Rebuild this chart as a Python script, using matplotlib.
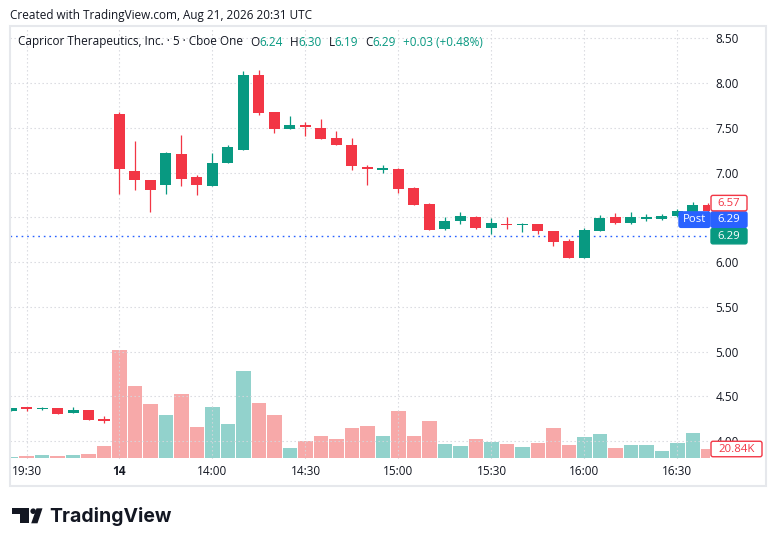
import matplotlib
matplotlib.use("Agg")
import matplotlib.pyplot as plt
from matplotlib.patches import Rectangle, Polygon, Circle, FancyBboxPatch
import numpy as np

plt.rcParams['font.family'] = ['Open Sans', 'DejaVu Sans']

W, H = 776, 546

# 5 min bars: Aug 13 19:25-19:55, then Aug 14 13:30-16:40 (UTC)
opens = [4.34, 4.37, 4.355, 4.37, 4.31, 4.35, 4.24,
         7.65, 7.02, 6.92, 6.86, 7.21, 6.95, 6.85, 7.11, 7.25, 8.09,
         7.68, 7.49, 7.52, 7.50, 7.39, 7.31, 7.05, 7.03, 7.04, 6.83,
         6.65, 6.37, 6.46, 6.50, 6.38, 6.43, 6.41, 6.43, 6.35, 6.24,
         6.05, 6.35, 6.50, 6.44, 6.48, 6.48, 6.51, 6.56, 6.64]
highs = [4.37, 4.38, 4.38, 4.37, 4.38, 4.35, 4.28,
         7.68, 7.35, 6.92, 7.23, 7.42, 6.97, 7.22, 7.31, 8.13, 8.15,
         7.68, 7.63, 7.57, 7.60, 7.46, 7.39, 7.09, 7.09, 7.05, 6.84,
         6.66, 6.50, 6.56, 6.52, 6.49, 6.50, 6.44, 6.43, 6.35, 6.26,
         6.38, 6.53, 6.55, 6.56, 6.54, 6.54, 6.59, 6.67, 6.66]
lows = [4.34, 4.34, 4.35, 4.30, 4.31, 4.24, 4.20,
        6.76, 6.80, 6.56, 6.76, 6.85, 6.75, 6.85, 7.11, 7.25, 7.64,
        7.44, 7.49, 7.41, 7.37, 7.31, 7.03, 6.86, 7.00, 6.77, 6.64,
        6.36, 6.36, 6.43, 6.37, 6.31, 6.37, 6.34, 6.31, 6.18, 6.05,
        6.05, 6.35, 6.43, 6.43, 6.46, 6.47, 6.50, 6.55, 6.55]
closes = [4.37, 4.36, 4.37, 4.30, 4.35, 4.24, 4.23,
          7.04, 6.92, 6.81, 7.22, 6.93, 6.86, 7.11, 7.29, 8.09, 7.66,
          7.49, 7.53, 7.51, 7.38, 7.31, 7.07, 7.04, 7.04, 6.82, 6.64,
          6.36, 6.46, 6.51, 6.38, 6.44, 6.41, 6.42, 6.35, 6.22, 6.05,
          6.36, 6.49, 6.44, 6.50, 6.49, 6.51, 6.57, 6.64, 6.57]
volumes = [2.4, 4.8, 6.5, 4.1, 6.5, 8.9, 28,
           258, 172, 129, 102, 153, 74, 121, 81, 208, 131,
           102, 23, 40, 52, 45, 71, 76, 52, 112, 52,
           88, 33, 28, 45, 38, 33, 26, 35, 71, 30,
           50, 57, 23, 30, 30, 16, 35, 59, 20.84]  # thousands

tick_idx = [1, 7, 13, 19, 25, 31, 37, 43]
tick_labels = ["19:30", "14", "14:00", "14:30", "15:00", "15:30", "16:00", "16:30"]
price_ticks = [4.0, 4.5, 5.0, 5.5, 6.0, 6.5, 7.0, 7.5, 8.0, 8.5]

header = "Created with TradingView.com, Aug 21, 2026 20:31 UTC"
title = "Capricor Therapeutics, Inc. \u00b7 5 \u00b7 Cboe One"
legend_ohlc = [("O", "6.24"), ("H", "6.30"), ("L", "6.19"), ("C", "6.29")]
legend_change = "+0.03 (+0.48%)"
post_price = 6.29

GREEN = "#089981"
RED = "#F23645"
VGREEN = "#92d2cc"
VRED = "#f7a9a9"
TXT = "#131722"
GRID = "#d5d7dd"
BLUE = "#2962FF"

idx = np.arange(len(opens))
o = np.array(opens)
c = np.array(closes)
up = c >= o
cols = np.where(up, GREEN, RED)
vcols = np.where(up, VGREEN, VRED)

fig = plt.figure(figsize=(W / 100, H / 100), dpi=100)
fig.patch.set_facecolor("white")

L, R, T, B = 10, 710, 28, 459
rect = [L / W, 1 - B / H, (R - L) / W, (B - T) / H]
vax = fig.add_axes(rect, zorder=1)
ax = fig.add_axes(rect, zorder=2)
ax.patch.set_alpha(0)

xlim = (-0.065, 45.1)

# volume
vax.bar(idx, volumes, width=0.93, color=vcols, linewidth=0)
vax.set_xlim(*xlim)
vax.set_ylim(-3.1, 1029)
vax.set_xticks([])
vax.set_yticks([])
for s in vax.spines.values():
    s.set_visible(False)

# candles
body = np.maximum(np.abs(c - o), 0.02)
ax.vlines(idx, lows, highs, colors=cols, lw=0.9, zorder=3)
ax.bar(idx, body, bottom=np.minimum(o, c), width=0.71, color=cols, linewidth=0, zorder=4)
ax.axhline(post_price, color=BLUE, lw=1.0, ls=(0, (1.2, 2.8)), zorder=2)

ax.set_xlim(*xlim)
ax.set_ylim(3.80, 8.615)
# the 6.50 label sits under the price badges, so it is not shown
ylabels = ["" if abs(p - 6.5) < 1e-9 else f"{p:.2f}" for p in price_ticks]
ax.set_yticks(price_ticks, ylabels)
ax.set_xticks(tick_idx, tick_labels)
ax.get_xticklabels()[1].set_fontweight("bold")
ax.yaxis.tick_right()
ax.tick_params(axis="y", length=0, pad=4, labelsize=8.5, labelcolor=TXT)
ax.tick_params(axis="x", length=0, pad=4, labelsize=8.5, labelcolor=TXT)
ax.grid(True, color=GRID, lw=0.8, ls=(0, (1.2, 2.4)), zorder=0)
for s in ax.spines.values():
    s.set_visible(False)

# overlay in pixel coordinates for frame, labels and logo
ov = fig.add_axes([0, 0, 1, 1], zorder=5)
ov.set_xlim(0, W)
ov.set_ylim(H, 0)
ov.axis("off")

ov.add_patch(Rectangle((10, 26), 756, 460, fill=False, ec="#e6e8ec", lw=1.5))

ov.text(10, 15, header, fontsize=8.5, color=TXT, va="center", ha="left")

fig.canvas.draw()
rend = fig.canvas.get_renderer()


def put(x, s, color, gap=0):
    t = ov.text(x + gap, 42, s, fontsize=8.5, color=color, va="center", ha="left")
    bb = t.get_window_extent(rend)
    return x + gap + bb.width


x = put(18, title, TXT)
for k, v in legend_ohlc:
    x = put(x, k, TXT, gap=7)
    x = put(x, v, GREEN)
x = put(x, legend_change, GREEN, gap=7)


def py(p):
    return H - ax.transData.transform((0, p))[1]


bh = 16.5
yg = py(post_price)
yr = min(py(closes[-1]), yg - 2 * bh)


def box(x0, yc, w, s, fc, ec, tc, fs=8.2):
    ov.add_patch(FancyBboxPatch((x0, yc - bh / 2 + 0.5), w, bh - 1,
                                boxstyle="round,pad=0,rounding_size=2",
                                fc=fc, ec=ec, lw=1))
    ov.text(x0 + w / 2, yc, s, fontsize=fs, color=tc, ha="center", va="center")


box(711, yg, 36, f"{post_price:.2f}", GREEN, GREEN, "white")
box(711, yg - bh, 36, f"{post_price:.2f}", BLUE, BLUE, "white")
box(679, yg - bh, 31, "Post", BLUE, BLUE, "white")
box(711, yr, 36, f"{closes[-1]:.2f}", "white", RED, RED)

yv = H - vax.transData.transform((0, volumes[-1]))[1]
box(711, yv, 51, f"{volumes[-1]:.2f}K", "white", RED, RED)

# TradingView logo
ov.add_patch(Polygon([(12.3, 508.3), (29.3, 508.3), (29.3, 523.3), (20.3, 523.3),
                      (20.3, 514.3), (12.3, 514.3)], closed=True, fc=TXT, ec="none"))
ov.add_patch(Circle((33.2, 511.2), 2.8, fc=TXT, ec="none"))
ov.add_patch(Polygon([(36.5, 508.3), (42.5, 508.3), (37.5, 523.3), (31.2, 523.3)],
                     closed=True, fc=TXT, ec="none"))
ov.text(49, 516, "TradingView", fontsize=14, fontweight="bold", color=TXT,
        family=["Inter", "DejaVu Sans"], va="center", ha="left")

fig.savefig("out.png", dpi=100, facecolor="white")
